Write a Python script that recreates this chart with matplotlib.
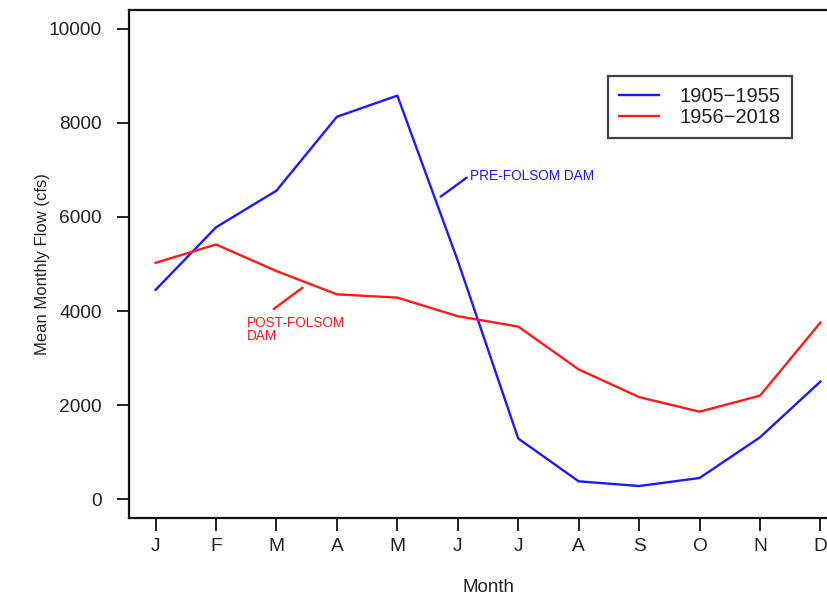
import matplotlib
matplotlib.use("Agg")
import matplotlib.pyplot as plt

plt.rcParams['font.family'] = ['Liberation Sans', 'DejaVu Sans']

months = ["J", "F", "M", "A", "M", "J", "J", "A", "S", "O", "N", "D"]
month_num = list(range(1, 13))
pre_dam = [4450, 5780, 6560, 8130, 8580, 5070, 1290, 380, 280, 450, 1315, 2500]
post_dam = [5025, 5415, 4850, 4355, 4285, 3890, 3670, 2760, 2170, 1860, 2200, 3755]
series_labels = ["1905\u22121955", "1956\u22122018"]
y_ticks = [0, 2000, 4000, 6000, 8000, 10000]

W, H = 827, 596
fig = plt.figure(figsize=(W / 100, H / 100), dpi=100)
ax = fig.add_axes([129 / W, 1 - 518 / H, (847 - 129) / W, (518 - 10) / H])

ax.plot(month_num, pre_dam, color="#1a1aff", lw=1.7, label=series_labels[0])
ax.plot(month_num, post_dam, color="#ff1a1a", lw=1.7, label=series_labels[1])

ax.set_xlim(0.56, 12.44)
ax.set_ylim(-400, 10400)
ax.set_xticks(month_num)
ax.set_xticklabels(months)
ax.set_yticks(y_ticks)
ax.set_yticklabels([str(v) for v in y_ticks])

for s in ax.spines.values():
    s.set_linewidth(1.6)
    s.set_color("#111111")

ax.tick_params(axis="both", direction="out", length=9, width=1.3, colors="#111111",
               labelcolor="#222222", labelsize=13.8)
ax.tick_params(axis="y", pad=10.5)
ax.tick_params(axis="x", pad=5.5)

ax.set_xlabel("Month", fontsize=13.5, color="#222222", va="center")
ax.xaxis.set_label_coords(0.5, (518 - 588) / 508)
ax.set_ylabel("Mean Monthly Flow (cfs)", fontsize=12, color="#222222", va="center")
ax.yaxis.set_label_coords((43 - 129) / 718, 0.5)

leg = ax.legend(loc="upper left", bbox_to_anchor=(608 / W, 1 - 76 / H),
                bbox_transform=fig.transFigure, fontsize=14.5, frameon=True,
                fancybox=False, handlelength=2.0, handletextpad=1.0,
                labelspacing=0.08, borderpad=0.55, borderaxespad=0)
leg.get_frame().set_edgecolor("#111111")
leg.get_frame().set_linewidth(1.6)
for t in leg.get_texts():
    t.set_color("#222222")

# annotations
ax.annotate("PRE-FOLSOM DAM", xy=(6.2, 6870), color="#1a1aff", fontsize=9.8,
            ha="left", va="center")
ax.annotate("", xy=(5.717, 6432), xytext=(6.147, 6836),
            arrowprops=dict(arrowstyle="-", color="#1a1aff", lw=1.7,
                            shrinkA=0, shrinkB=0))
ax.annotate("POST-FOLSOM\nDAM", xy=(2.503, 3600), color="#ff1a1a", fontsize=9.8,
            ha="left", va="center", linespacing=0.9)
ax.annotate("", xy=(2.955, 4043), xytext=(3.430, 4496),
            arrowprops=dict(arrowstyle="-", color="#ff1a1a", lw=1.7,
                            shrinkA=0, shrinkB=0))

fig.savefig("out.png", dpi=100)
